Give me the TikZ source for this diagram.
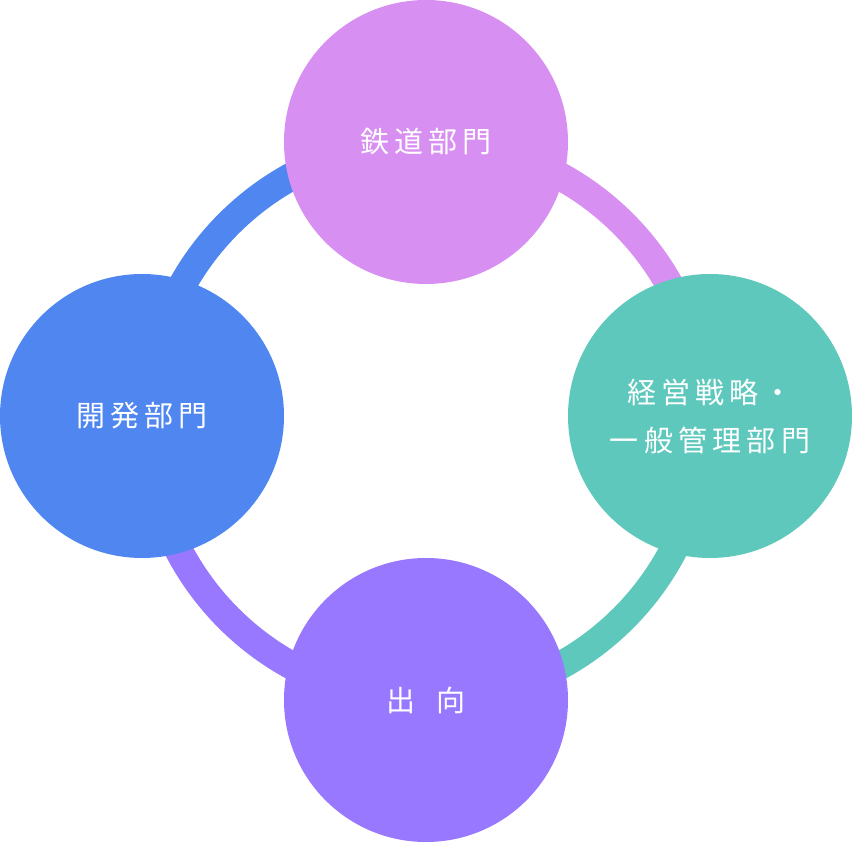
\documentclass[tikz,border=0pt]{standalone}
\usepackage{fontspec}
\newfontfamily\jp[LetterSpace=18]{Noto Sans CJK JP}
\definecolor{cpink}{HTML}{D88FF2}
\definecolor{cteal}{HTML}{5EC8BD}
\definecolor{cpurp}{HTML}{9778FF}
\definecolor{cblue}{HTML}{4F86F0}
\begin{document}
\begin{tikzpicture}[x=1pt,y=1pt,
  bub/.style={circle,minimum size=284pt,inner sep=0pt,text=white,font=\jp\fontsize{29}{48}\selectfont,align=center},
  ring/.style={line width=28pt}]
\useasboundingbox (0,0) rectangle (852,843);
\coordinate (c) at (426,422);
\draw[ring,cblue] ([shift={(90:279)}]c) arc (90:180:279);
\draw[ring,cpink] ([shift={(0:279)}]c) arc (0:90:279);
\draw[ring,cteal] ([shift={(270:279)}]c) arc (270:360:279);
\draw[ring,cpurp] ([shift={(180:279)}]c) arc (180:270:279);
\node[bub,fill=cpink] (top) at (426,701) {鉄道部門};
\node[bub,fill=cblue] (left) at (142,427) {開発部門};
\node[bub,fill=cteal] (right) at (710,427) {経営戦略・\\一般管理部門};
\node[bub,fill=cpurp] (bot) at (426,143) {出\hspace{0.7em}向};
\end{tikzpicture}
\end{document}
